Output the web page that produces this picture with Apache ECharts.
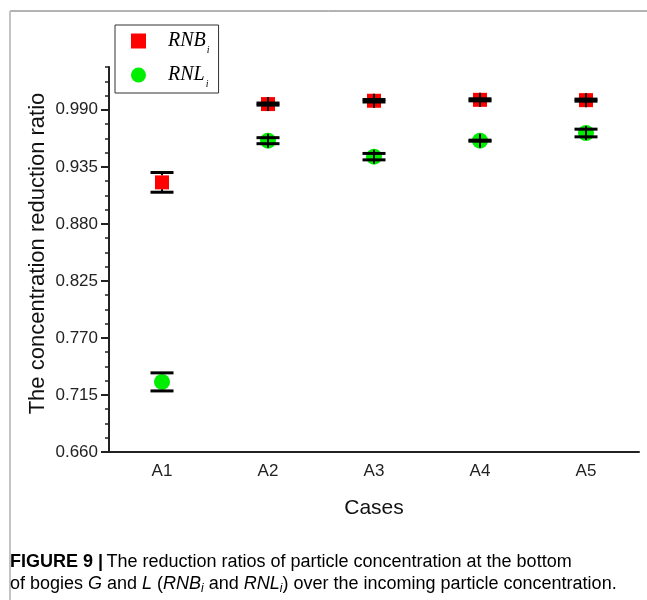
<!DOCTYPE html>
<html>
<head>
<meta charset="utf-8">
<script src="https://cdn.jsdelivr.net/npm/echarts@6/dist/echarts.min.js"></script>
<style>
html,body{margin:0;padding:0;background:#fff;}
#chart{width:647px;height:600px;}
</style>
</head>
<body>
<div id="chart"></div>
<script>
const categories = ['A1', 'A2', 'A3', 'A4', 'A5'];
const rnbValues = [0.920, 0.9955, 0.9987, 0.9996, 0.9993];
const rnbErrors = [0.0095, 0.001, 0.0012, 0.001, 0.001];
const rnlValues = [0.7276, 0.9602, 0.9448, 0.9602, 0.9676];
const rnlErrors = [0.0087, 0.0029, 0.0031, 0.0005, 0.0037];
const yTicks = [0.660, 0.715, 0.770, 0.825, 0.880, 0.935, 0.990];
const yMin = 0.66, yMax = 1.03125, yInterval = 0.055, yMinorInterval = 0.01375;

const chart = echarts.init(document.getElementById('chart'));
const FONT = "'Liberation Sans', Arial, sans-serif";

function errorBarRender(markerHalf) {
  return function (params, api) {
    const x = api.value(0), v = api.value(1), e = api.value(2);
    const c = api.coord([x, v]);
    const hi = api.coord([x, v + e]);
    const lo = api.coord([x, v - e]);
    const capHalf = 11.5;
    const style = { stroke: '#000', lineWidth: 3 };
    const vstyle = { stroke: '#000', lineWidth: 2 };
    const children = [
      { type: 'line', shape: { x1: c[0] - capHalf, y1: hi[1], x2: c[0] + capHalf, y2: hi[1] }, style: style },
      { type: 'line', shape: { x1: c[0] - capHalf, y1: lo[1], x2: c[0] + capHalf, y2: lo[1] }, style: style }
    ];
    if (c[1] - hi[1] > markerHalf) {
      children.push({ type: 'line', shape: { x1: c[0], y1: hi[1], x2: c[0], y2: c[1] - markerHalf }, style: vstyle });
      children.push({ type: 'line', shape: { x1: c[0], y1: lo[1], x2: c[0], y2: c[1] + markerHalf }, style: vstyle });
    } else {
      children.push({ type: 'line', shape: { x1: c[0], y1: c[1] - 7, x2: c[0], y2: c[1] + 7 }, style: vstyle });
    }
    return { type: 'group', children: children };
  };
}

const legendRich = {
  t: { fontFamily: "'Liberation Serif', 'Times New Roman', serif", fontStyle: 'italic', fontSize: 20, color: '#000', lineHeight: 28, verticalAlign: 'middle', padding: [0, 0, 0, 17] },
  s: { fontFamily: "'Liberation Serif', 'Times New Roman', serif", fontStyle: 'italic', fontSize: 10, color: '#000', lineHeight: 10, verticalAlign: 'bottom', padding: [0, 0, 0, 1] }
};

const option = {
  backgroundColor: '#fff',
  animation: false,
  grid: { left: 109, right: 8, top: 67, bottom: 148, containLabel: false },
  legend: {
    orient: 'vertical',
    left: 115,
    top: 25,
    padding: [6, 9, 4, 16],
    itemGap: 10,
    itemWidth: 15,
    itemHeight: 15,
    borderColor: '#333',
    borderWidth: 1,
    backgroundColor: '#fff',
    data: [{ name: 'RNB', icon: 'rect' }, { name: 'RNL', icon: 'circle' }],
    formatter: function (name) { return '{t|' + name + '}{s|i}'; },
    textStyle: { rich: legendRich }
  },
  xAxis: [
    {
      type: 'category',
      data: categories,
      boundaryGap: true,
      name: 'Cases',
      nameLocation: 'middle',
      nameGap: 46,
      nameTextStyle: { fontFamily: FONT, fontSize: 21, color: '#111' },
      axisLine: { lineStyle: { color: '#222', width: 2 } },
      axisTick: { alignWithLabel: true, length: 7, lineStyle: { color: '#222', width: 2 } },
      axisLabel: { fontFamily: FONT, fontSize: 17, color: '#222', margin: 11 },
      splitLine: { show: false }
    },
    {
      type: 'category',
      data: categories,
      boundaryGap: true,
      position: 'bottom',
      axisLine: { show: false },
      axisTick: { length: 7, lineStyle: { color: '#222', width: 2 } },
      axisLabel: { show: false },
      splitLine: { show: false }
    }
  ],
  yAxis: [
    {
      type: 'value',
      min: yMin,
      max: yMax,
      interval: yInterval,
      name: 'The concentration reduction ratio',
      nameLocation: 'middle',
      nameGap: 60,
      nameMoveOverlap: false,
      nameTextStyle: { fontFamily: FONT, fontSize: 22, color: '#111', padding: [0, 0, 0, 12] },
      axisLine: { show: true, lineStyle: { color: '#222', width: 2 } },
      axisTick: { show: true, length: 8, customValues: yTicks, lineStyle: { color: '#222', width: 2 } },
      axisLabel: { fontFamily: FONT, fontSize: 17, color: '#222', margin: 11, customValues: yTicks,
        formatter: function (v) { return v.toFixed(3); } },
      splitLine: { show: false }
    },
    {
      type: 'value',
      min: yMin,
      max: yMax,
      interval: yMinorInterval,
      position: 'left',
      axisLine: { show: false },
      axisTick: { show: true, length: 4, lineStyle: { color: '#222', width: 1.5 } },
      axisLabel: { show: false },
      splitLine: { show: false }
    }
  ],
  series: [
    {
      name: 'RNB', type: 'scatter', symbol: 'rect', symbolSize: 14,
      itemStyle: { color: '#ff0000', opacity: 1 },
      data: rnbValues, z: 2
    },
    {
      name: 'RNL', type: 'scatter', symbol: 'circle', symbolSize: 16,
      itemStyle: { color: '#00ee00', opacity: 1 },
      data: rnlValues, z: 2
    },
    {
      name: 'RNB err', type: 'custom', renderItem: errorBarRender(7), z: 5,
      data: rnbValues.map((v, i) => [i, v, rnbErrors[i]]),
      encode: { x: 0, y: 1 }
    },
    {
      name: 'RNL err', type: 'custom', renderItem: errorBarRender(8), z: 5,
      data: rnlValues.map((v, i) => [i, v, rnlErrors[i]]),
      encode: { x: 0, y: 1 }
    }
  ],
  graphic: [
    { type: 'line', silent: true, shape: { x1: 10, y1: 11, x2: 647, y2: 11 }, style: { stroke: '#666', lineWidth: 1 } },
    { type: 'line', silent: true, shape: { x1: 10, y1: 11, x2: 10, y2: 600 }, style: { stroke: '#c4c4c4', lineWidth: 2 } },
    {
      type: 'text', left: 10, top: 553, silent: true,
      style: {
        text: '{b|FIGURE 9 |} {n|The reduction ratios of particle concentration at the bottom}\n{n|of bogies }{i|G}{n| and }{i|L}{n| (}{i|RNB}{si|i}{n| and }{i|RNL}{si|i}{n|) over the incoming particle concentration.}',
        rich: {
          b: { fontFamily: FONT, fontWeight: 'bold', fontSize: 18, color: '#222', lineHeight: 22 },
          n: { fontFamily: FONT, fontSize: 18, color: '#222', lineHeight: 22 },
          i: { fontFamily: FONT, fontStyle: 'italic', fontSize: 18, color: '#222', lineHeight: 22 },
          si: { fontFamily: FONT, fontStyle: 'italic', fontSize: 12, color: '#222', lineHeight: 15, verticalAlign: 'bottom' }
        }
      }
    }
  ]
};
chart.setOption(option);
</script>
</body>
</html>
